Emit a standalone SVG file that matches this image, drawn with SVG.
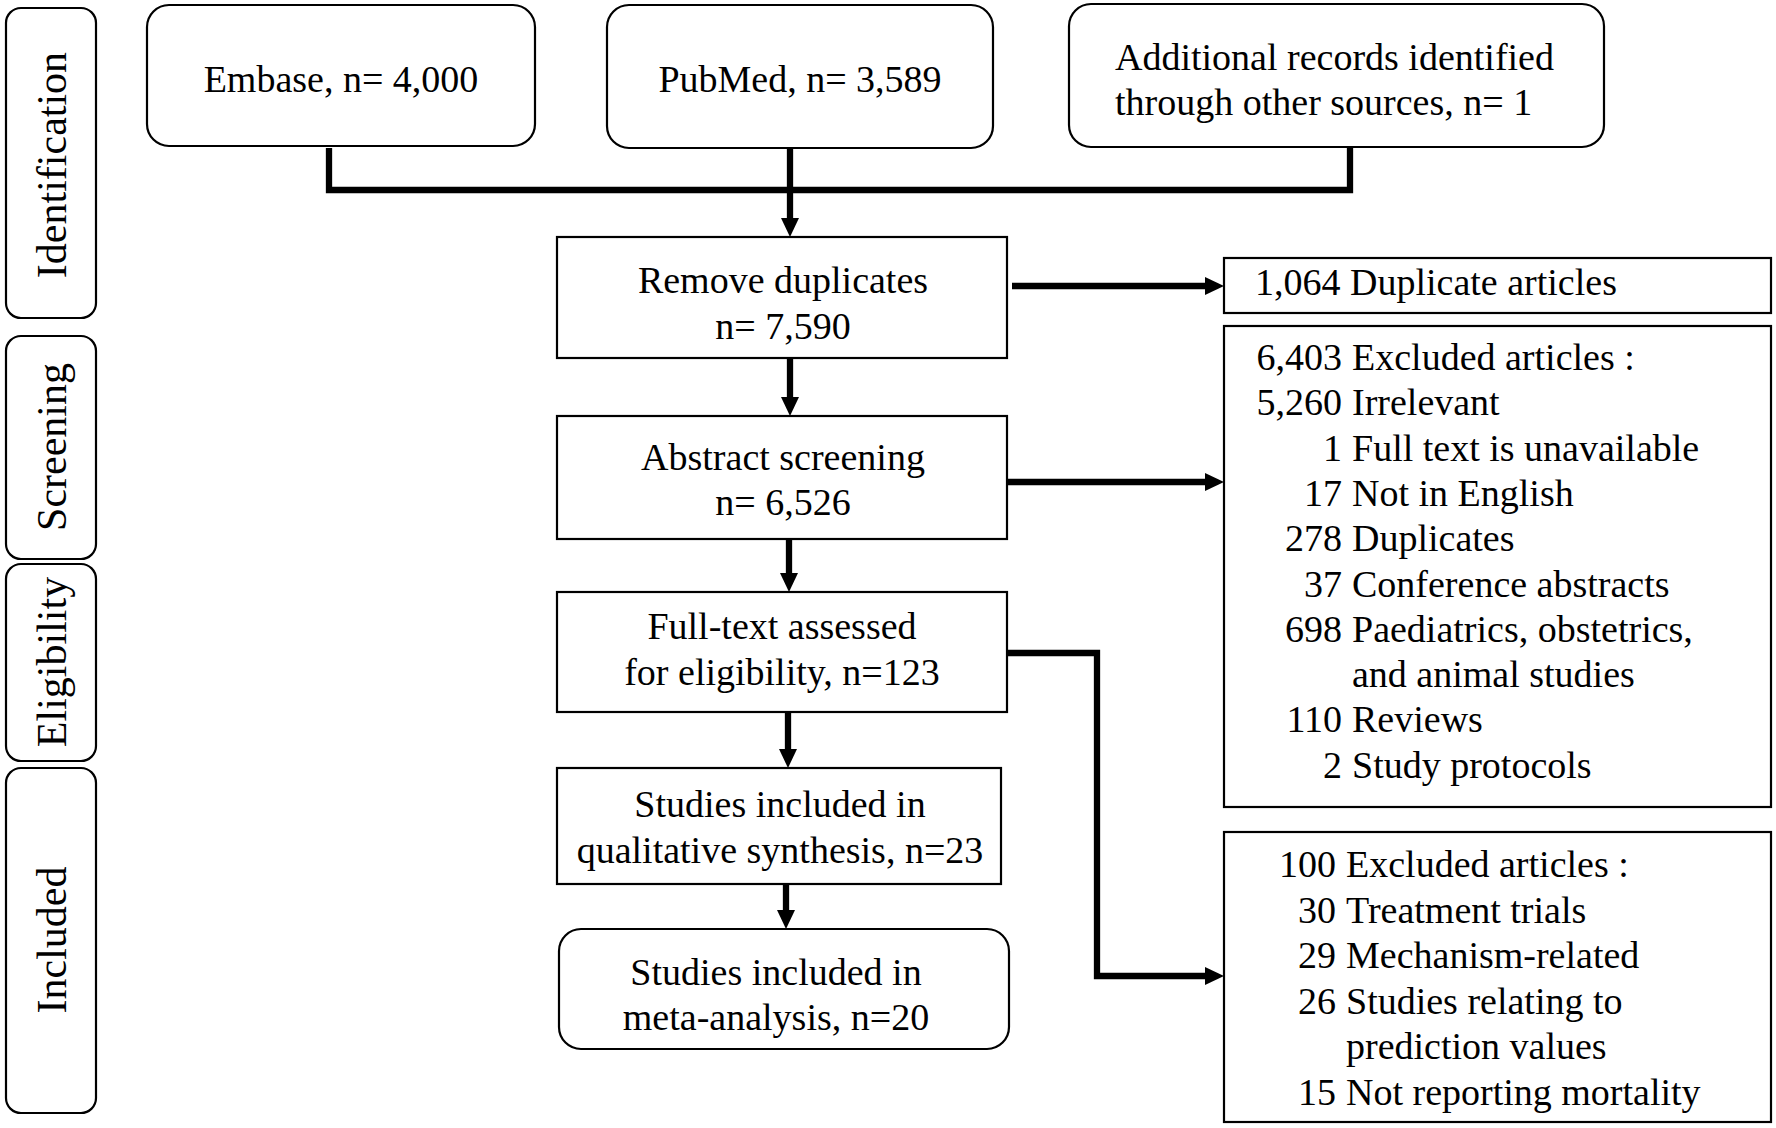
<svg xmlns="http://www.w3.org/2000/svg" width="1776" height="1128" viewBox="0 0 1776 1128">
<style>
  text { font-family: "Liberation Serif", "Times New Roman", serif; fill: #000; }
  .t { font-size: 38px; }
  .c { text-anchor: middle; }
  .e { text-anchor: end; }
  .side { font-size: 42px; text-anchor: middle; }
  .box { fill: #fff; stroke: #000; stroke-width: 2.2; }
  .conn { fill: none; stroke: #000; stroke-width: 6.3; stroke-linejoin: miter; stroke-linecap: butt; }
</style>
<defs>
  <marker id="arr" markerUnits="userSpaceOnUse" markerWidth="19" markerHeight="18" refX="0" refY="9" orient="auto">
    <path d="M0,0 L19,9 L0,18 Z" fill="#000"/>
  </marker>
</defs>
<rect width="1776" height="1128" fill="#fff"/>

<g id="phase-identification">
  <rect class="box" x="6" y="8" width="90" height="310" rx="15"/>
  <text class="side" transform="translate(51,165) rotate(-90)" dy="0.35em">Identification</text>
</g>
<g id="phase-screening">
  <rect class="box" x="6" y="336" width="90" height="223" rx="15"/>
  <text class="side" transform="translate(51,447) rotate(-90)" dy="0.35em">Screening</text>
</g>
<g id="phase-eligibility">
  <rect class="box" x="6" y="564" width="90" height="197" rx="15"/>
  <text class="side" transform="translate(51,662) rotate(-90)" dy="0.35em">Eligibility</text>
</g>
<g id="phase-included">
  <rect class="box" x="6" y="768" width="90" height="345" rx="15"/>
  <text class="side" transform="translate(51,940) rotate(-90)" dy="0.35em">Included</text>
</g>

<g id="connectors">
  <path class="conn" d="M329,148 V190 H1350 V148"/>
  <path class="conn" d="M790,148 V218" marker-end="url(#arr)"/>
  <path class="conn" d="M1012,286 H1205" marker-end="url(#arr)"/>
  <path class="conn" d="M790,358 V397" marker-end="url(#arr)"/>
  <path class="conn" d="M1007,482 H1205" marker-end="url(#arr)"/>
  <path class="conn" d="M789,539 V573" marker-end="url(#arr)"/>
  <path class="conn" d="M1007,653 H1097 V976 H1205" marker-end="url(#arr)"/>
  <path class="conn" d="M788,712 V749" marker-end="url(#arr)"/>
  <path class="conn" d="M786,884 V910" marker-end="url(#arr)"/>
</g>

<g id="embase">
  <rect class="box" x="147" y="5" width="388" height="141" rx="22"/>
  <text class="t c" x="341" y="92">Embase, n= 4,000</text>
</g>
<g id="pubmed">
  <rect class="box" x="607" y="5" width="386" height="143" rx="22"/>
  <text class="t c" x="800" y="92">PubMed, n= 3,589</text>
</g>
<g id="additional">
  <rect class="box" x="1069" y="4" width="535" height="143" rx="22"/>
  <text class="t" x="1115" y="70">Additional records identified</text>
  <text class="t" x="1115" y="115">through other sources, n= 1</text>
</g>

<g id="remove-duplicates">
  <rect class="box" x="557" y="237" width="450" height="121"/>
  <text class="t c" x="783" y="293">Remove duplicates</text>
  <text class="t c" x="783" y="339">n= 7,590</text>
</g>
<g id="duplicate-articles">
  <rect class="box" x="1224" y="258" width="547" height="55"/>
  <text class="t" x="1255" y="295">1,064 Duplicate articles</text>
</g>

<g id="abstract-screening">
  <rect class="box" x="557" y="416" width="450" height="123"/>
  <text class="t c" x="783" y="470">Abstract screening</text>
  <text class="t c" x="783" y="515">n= 6,526</text>
</g>
<g id="excluded-screening">
  <rect class="box" x="1224" y="326" width="547" height="481"/>
  <text class="t e" x="1342" y="370">6,403</text><text class="t" x="1352" y="370">Excluded articles :</text>
  <text class="t e" x="1342" y="415.3">5,260</text><text class="t" x="1352" y="415.3">Irrelevant</text>
  <text class="t e" x="1342" y="460.6">1</text><text class="t" x="1352" y="460.6">Full text is unavailable</text>
  <text class="t e" x="1342" y="505.9">17</text><text class="t" x="1352" y="505.9">Not in English</text>
  <text class="t e" x="1342" y="551.2">278</text><text class="t" x="1352" y="551.2">Duplicates</text>
  <text class="t e" x="1342" y="596.5">37</text><text class="t" x="1352" y="596.5">Conference abstracts</text>
  <text class="t e" x="1342" y="641.8">698</text><text class="t" x="1352" y="641.8">Paediatrics, obstetrics,</text>
  <text class="t" x="1352" y="687.1">and animal studies</text>
  <text class="t e" x="1342" y="732.4">110</text><text class="t" x="1352" y="732.4">Reviews</text>
  <text class="t e" x="1342" y="777.7">2</text><text class="t" x="1352" y="777.7">Study protocols</text>
</g>

<g id="full-text">
  <rect class="box" x="557" y="592" width="450" height="120"/>
  <text class="t c" x="782" y="639">Full-text assessed</text>
  <text class="t c" x="782" y="685">for eligibility, n=123</text>
</g>
<g id="excluded-eligibility">
  <rect class="box" x="1224" y="832" width="547" height="290"/>
  <text class="t e" x="1336" y="877">100</text><text class="t" x="1346" y="877">Excluded articles :</text>
  <text class="t e" x="1336" y="922.5">30</text><text class="t" x="1346" y="922.5">Treatment trials</text>
  <text class="t e" x="1336" y="968">29</text><text class="t" x="1346" y="968">Mechanism-related</text>
  <text class="t e" x="1336" y="1013.5">26</text><text class="t" x="1346" y="1013.5">Studies relating to</text>
  <text class="t" x="1346" y="1059">prediction values</text>
  <text class="t e" x="1336" y="1104.5">15</text><text class="t" x="1346" y="1104.5">Not reporting mortality</text>
</g>

<g id="qualitative">
  <rect class="box" x="557" y="768" width="444" height="116"/>
  <text class="t c" x="780" y="817">Studies included in</text>
  <text class="t c" x="780" y="863">qualitative synthesis, n=23</text>
</g>
<g id="meta-analysis">
  <rect class="box" x="559" y="929" width="450" height="120" rx="22"/>
  <text class="t c" x="776" y="985">Studies included in</text>
  <text class="t c" x="776" y="1030">meta-analysis, n=20</text>
</g>
</svg>
